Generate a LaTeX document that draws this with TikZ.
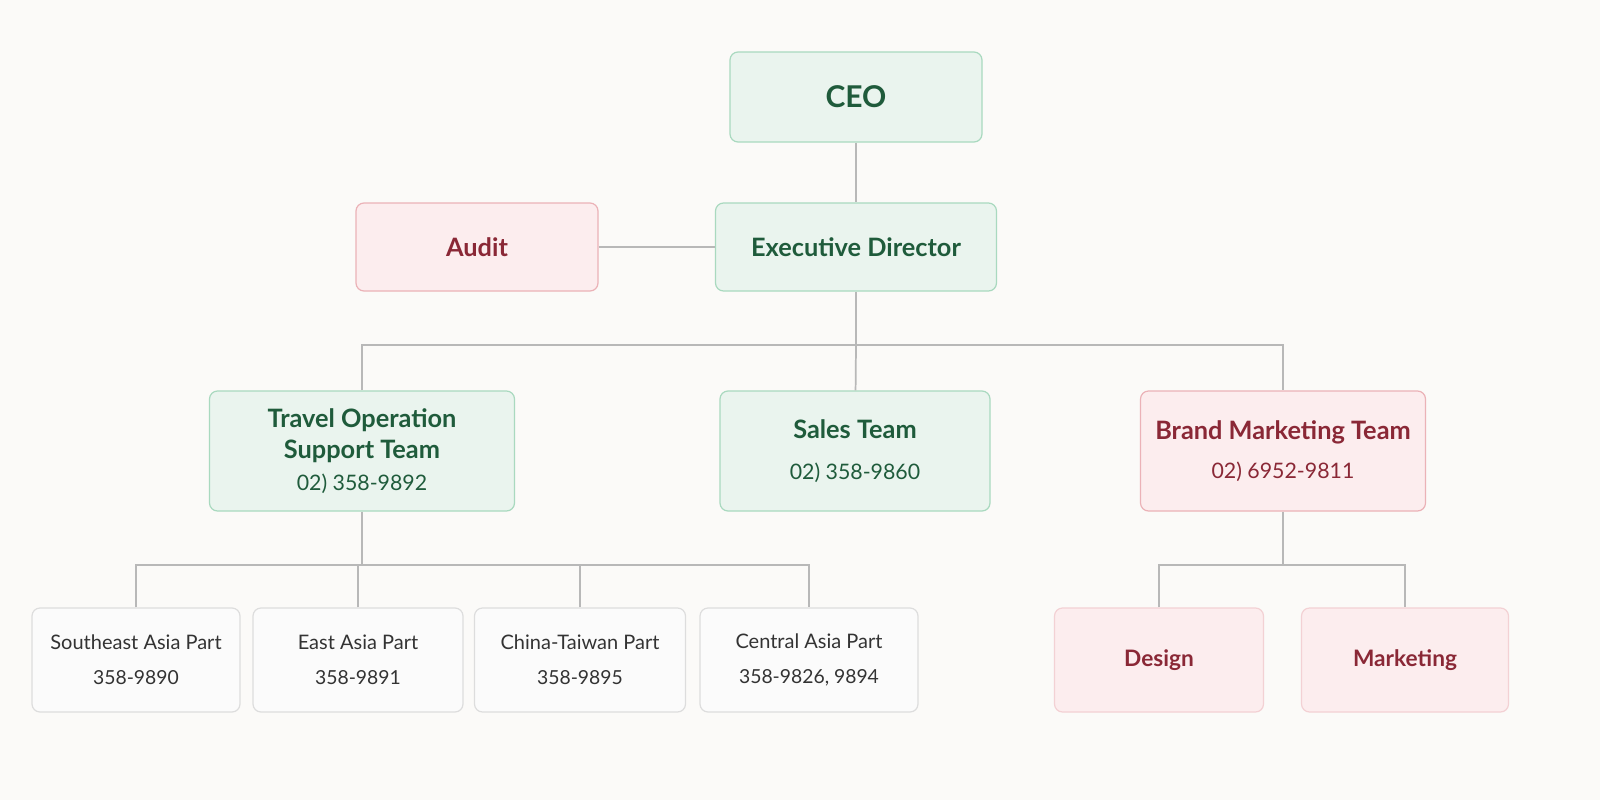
\documentclass[tikz,border=0pt]{standalone}
\usepackage{fontspec}
\setmainfont{Lato}
\definecolor{bgc}{HTML}{FBFAF8}
\definecolor{grfill}{HTML}{EAF4EE}
\definecolor{grline}{HTML}{A9D9BF}
\definecolor{grtext}{HTML}{1F5B3B}
\definecolor{pkfill}{HTML}{FCEDEE}
\definecolor{pkline}{HTML}{EBB2B7}
\definecolor{pktext}{HTML}{8A2836}
\definecolor{gyfill}{HTML}{FBFBFB}
\definecolor{gyline}{HTML}{DDDDDD}
\definecolor{link}{HTML}{B8B8B8}
\newcommand{\phonetxt}{\mdseries\fontsize{16}{20}\selectfont}
\newcommand{\parttxt}{\fontsize{14.5}{18}\selectfont}
\tikzset{
  box/.style={rounded corners=6pt, line width=0.9pt, align=center, inner sep=0pt},
  green/.style={box, fill=grfill, draw=grline, text=grtext},
  pink/.style={box, fill=pkfill, draw=pkline, text=pktext},
  grey/.style={box, fill=gyfill, draw=gyline, text=black!80, font=\fontsize{15}{19}\selectfont},
  link/.style={draw=link, line width=1.3pt},
  big/.style={font=\bfseries\fontsize{19}{23}\selectfont},
}
\begin{document}
\begin{tikzpicture}[x=0.75pt,y=0.75pt,yscale=-1,xscale=1]
\useasboundingbox (0,0) rectangle (1600,800);
\fill[bgc] (0,0) rectangle (1600,800);

% top levels
\node[green, minimum width=189pt, minimum height=67.5pt, font=\bfseries\fontsize{22.5}{27}\selectfont] (ceo) at (856,97) {CEO};
\node[green, minimum width=210.75pt, minimum height=66pt, big] (exec) at (856,247) {Executive Director};
\node[pink, minimum width=181.5pt, minimum height=66pt, big] (audit) at (477,247) {Audit};

% teams
\node[green, minimum width=228.75pt, minimum height=90pt, big] (travel) at (362,451)
  {Travel Operation\\Support Team\\[1pt]\phonetxt 02) 358-9892};
\node[green, minimum width=202.5pt, minimum height=90pt, big] (sales) at (855,451)
  {Sales Team\\[8pt]\phonetxt 02) 358-9860};
\node[pink, minimum width=213.75pt, minimum height=90pt, big] (brand) at (1283,451)
  {Brand Marketing Team\\[6pt]\phonetxt 02) 6952-9811};

% parts
\node[grey, minimum width=156pt, minimum height=78pt] (sea) at (136,660)
  {Southeast Asia Part\\[7pt]\parttxt 358-9890};
\node[grey, minimum width=157.5pt, minimum height=78pt] (ea) at (358,660)
  {East Asia Part\\[7pt]\parttxt 358-9891};
\node[grey, minimum width=158.25pt, minimum height=78pt] (ct) at (580,660)
  {China-Taiwan Part\\[7pt]\parttxt 358-9895};
\node[grey, minimum width=163.5pt, minimum height=78pt] (ca) at (809,660)
  {Central Asia Part\\[7pt]\parttxt 358-9826, 9894};
\node[pink, minimum width=156.75pt, minimum height=78pt, draw=pkline!60, font=\bfseries\fontsize{17}{20}\selectfont] (design) at (1159,660) {Design};
\node[pink, minimum width=155.25pt, minimum height=78pt, draw=pkline!60, font=\bfseries\fontsize{17}{20}\selectfont] (mkt) at (1405,660) {Marketing};

% connectors
\coordinate (b1) at (856,345);
\coordinate (b2) at (362,565);
\coordinate (b3) at (1283,565);
\draw[link] (ceo) -- (exec);
\draw[link] (audit) -- (exec);
\draw[link] (exec) -- (b1);
\draw[link] (travel.north) |- (b1) -| (brand.north);
\draw[link] (b1) -- (sales);
\draw[link] (travel) -- (b2);
\draw[link] (sea.north) |- (b2) -| (ca.north);
\draw[link] (ea.north) -- (ea.north |- b2);
\draw[link] (ct.north) -- (ct.north |- b2);
\draw[link] (brand) -- (b3);
\draw[link] (design.north) |- (b3) -| (mkt.north);
\end{tikzpicture}
\end{document}
